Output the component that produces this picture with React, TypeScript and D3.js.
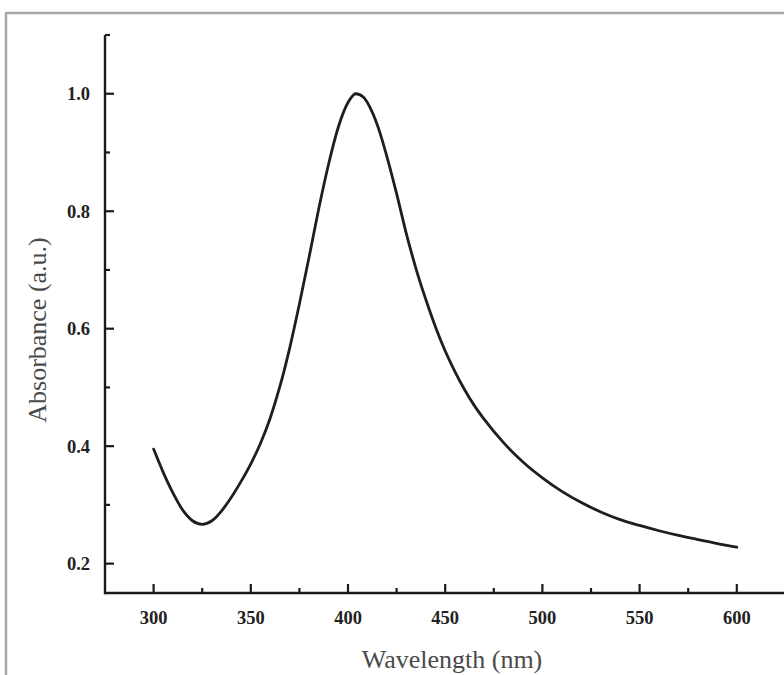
import React from "react";
import * as d3 from "d3";

const wavelength = [300, 305, 310, 315, 320, 325, 330, 335, 340, 345, 350, 355, 360, 365, 370, 375, 380, 385, 390, 395, 400, 404, 408, 412, 416, 420, 425, 430, 435, 440, 445, 450, 455, 460, 465, 470, 480, 490, 500, 510, 520, 530, 540, 550, 560, 570, 580, 590, 600];
const absorbance = [0.395, 0.355, 0.32, 0.291, 0.273, 0.267, 0.273, 0.29, 0.313, 0.34, 0.37, 0.405, 0.448, 0.502, 0.567, 0.642, 0.722, 0.805, 0.88, 0.943, 0.985, 1.0, 0.994, 0.972, 0.938, 0.893, 0.83, 0.762, 0.702, 0.65, 0.603, 0.562, 0.527, 0.496, 0.469, 0.446, 0.406, 0.373, 0.346, 0.323, 0.304, 0.288, 0.275, 0.265, 0.256, 0.248, 0.241, 0.234, 0.228];
const xMajorTicks = [300, 350, 400, 450, 500, 550, 600];
const xMinorTicks = [325, 375, 425, 475, 525, 575, 625];
const yMajorTicks = [0.2, 0.4, 0.6, 0.8, 1.0];
const yMinorTicks = [0.3, 0.5, 0.7, 0.9, 1.1];
const xTitle = "Wavelength (nm)";
const yTitle = "Absorbance (a.u.)";

export default function App() {
  const W = 784, H = 675;
  const x = d3.scaleLinear().domain([275, 650]).range([105, 834]);
  const y = d3.scaleLinear().domain([0.15, 1.1]).range([593, 35]);
  const pts = wavelength.map((w, i) => [w, absorbance[i]] as [number, number]);
  const line = d3.line<[number, number]>().x(d => x(d[0])).y(d => y(d[1])).curve(d3.curveMonotoneX);
  const axisColor = "#1a1a1a";
  const font = "'Liberation Serif', 'Times New Roman', serif";
  const x0 = x(275), y0 = y(0.15);
  return (
    <svg width={W} height={H} style={{ position: "absolute", left: 0, top: 0, background: "#fff" }} fontFamily={font}>
      <rect x={0} y={0} width={W} height={H} fill="#fff" />
      {/* outer frame */}
      <line x1={5} x2={W} y1={13} y2={13} stroke="#a8a8a8" strokeWidth={2.5} />
      <line x1={6} x2={6} y1={13} y2={H} stroke="#a8a8a8" strokeWidth={2.5} />
      {/* curve */}
      <path d={line(pts) || ""} fill="none" stroke="#1e1e1e" strokeWidth={2.8} strokeLinejoin="round" strokeLinecap="round" />
      {/* axes */}
      <line x1={x0} x2={W + 5} y1={y0} y2={y0} stroke={axisColor} strokeWidth={2.4} />
      <line x1={x0} x2={x0} y1={y(1.1)} y2={y0 + 1.2} stroke={axisColor} strokeWidth={2.4} />
      {xMajorTicks.map(t => (
        <line key={"xM" + t} x1={x(t)} x2={x(t)} y1={y0} y2={y0 - 9} stroke={axisColor} strokeWidth={2.2} />
      ))}
      {xMinorTicks.map(t => (
        <line key={"xm" + t} x1={x(t)} x2={x(t)} y1={y0} y2={y0 - 5} stroke={axisColor} strokeWidth={2.2} />
      ))}
      {yMajorTicks.map(t => (
        <line key={"yM" + t} x1={x0} x2={x0 + 9} y1={y(t)} y2={y(t)} stroke={axisColor} strokeWidth={2.2} />
      ))}
      {yMinorTicks.map(t => (
        <line key={"ym" + t} x1={x0} x2={x0 + 5} y1={y(t)} y2={y(t)} stroke={axisColor} strokeWidth={2.2} />
      ))}
      {xMajorTicks.map(t => (
        <text key={"xl" + t} x={x(t)} y={624} textAnchor="middle" fontSize={18.5} fontWeight="bold" fill="#222">{t}</text>
      ))}
      {yMajorTicks.map(t => (
        <text key={"yl" + t} x={90} y={y(t) + 6.5} textAnchor="end" fontSize={18.5} fontWeight="bold" fill="#222">{t.toFixed(1)}</text>
      ))}
      <text x={452} y={668} textAnchor="middle" fontSize={26} fill="#4a4a4a">{xTitle}</text>
      <text transform={`translate(46, 330) rotate(-90)`} textAnchor="middle" fontSize={26} fill="#4a4a4a">{yTitle}</text>
    </svg>
  );
}
